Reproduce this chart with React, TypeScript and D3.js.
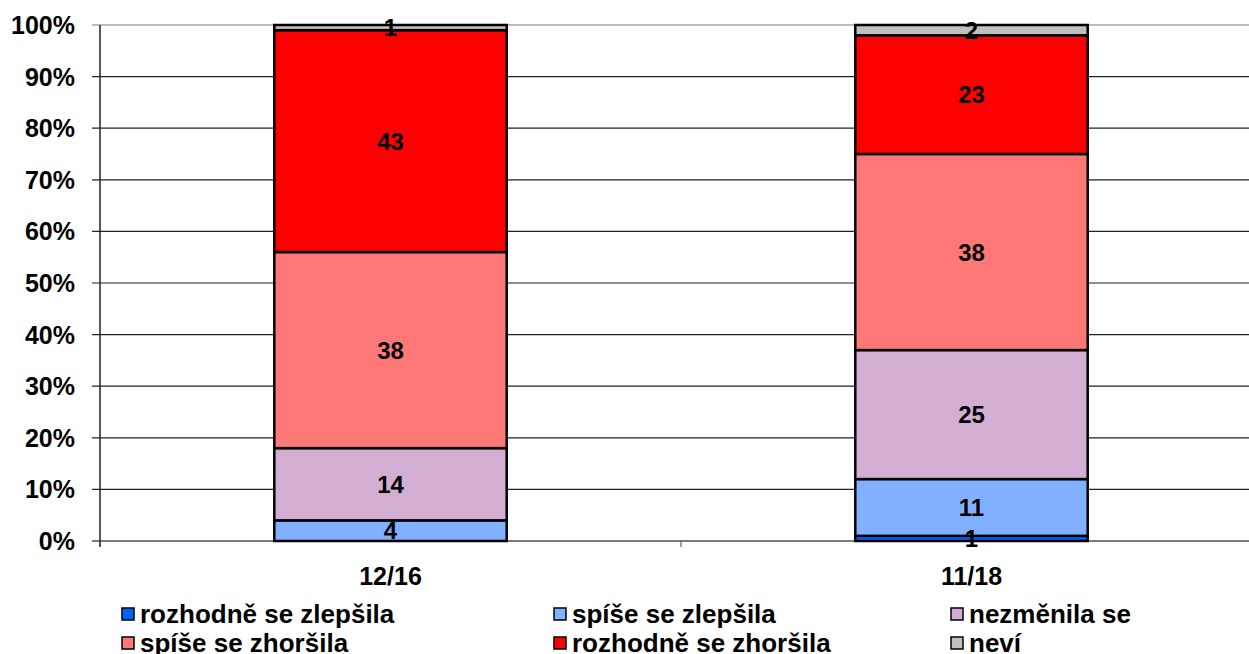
import React, { useEffect, useRef } from "react";
import * as d3 from "d3";

const periods = ["12/16", "11/18"];
const seriesNames = [
  "rozhodně se zlepšila",
  "spíše se zlepšila",
  "nezměnila se",
  "spíše se zhoršila",
  "rozhodně se zhoršila",
  "neví",
];
const seriesColors = ["#0064FF", "#80B0FF", "#D2AED2", "#FF7878", "#FF0000", "#C0C0C0"];
// values per series, one per period
const rozhodneZlepsila = [0, 1];
const spiseZlepsila = [4, 11];
const nezmenila = [14, 25];
const spiseZhorsila = [38, 38];
const rozhodneZhorsila = [43, 23];
const nevi = [1, 2];
const yTicks = [0, 10, 20, 30, 40, 50, 60, 70, 80, 90, 100];

const allSeries = [rozhodneZlepsila, spiseZlepsila, nezmenila, spiseZhorsila, rozhodneZhorsila, nevi];

const W = 1249;
const H = 654;
const FONT = "'Liberation Sans', Arial, sans-serif";

const App: React.FC = () => {
  const ref = useRef<SVGSVGElement | null>(null);

  useEffect(() => {
    if (!ref.current) return;
    const svg = d3.select(ref.current);
    svg.selectAll("*").remove();

    const left = 100;
    const right = 1262;
    const top = 25;
    const bottom = 541;

    const x = d3.scaleBand<string>().domain(periods).range([left, right]).paddingInner(0).paddingOuter(0);
    const y = d3.scaleLinear().domain([0, 100]).range([bottom, top]);
    const barW = x.bandwidth() * 0.4;

    // gridlines
    svg.append("g")
      .selectAll("line")
      .data(yTicks)
      .enter()
      .append("line")
      .attr("x1", left - 8)
      .attr("x2", right)
      .attr("y1", d => y(d))
      .attr("y2", d => y(d))
      .attr("stroke", d => (d === 100 || d === 0 ? "#7a7a7a" : "#222"))
      .attr("stroke-width", d => (d === 0 ? 2 : 1.2));

    // y axis line
    svg.append("line")
      .attr("x1", left).attr("x2", left)
      .attr("y1", top).attr("y2", bottom + 6)
      .attr("stroke", "#222").attr("stroke-width", 1.5);

    // category ticks
    svg.append("g")
      .selectAll("line")
      .data([left, (x(periods[1]) as number)])
      .enter()
      .append("line")
      .attr("x1", d => d).attr("x2", d => d)
      .attr("y1", bottom).attr("y2", bottom + 6)
      .attr("stroke", "#444").attr("stroke-width", 1);

    // y tick labels
    svg.append("g")
      .selectAll("text")
      .data(yTicks)
      .enter()
      .append("text")
      .attr("x", 75)
      .attr("y", d => y(d))
      .attr("dy", "0.36em")
      .attr("text-anchor", "end")
      .attr("font-family", FONT)
      .attr("font-weight", "bold")
      .attr("font-size", 25)
      .text(d => `${d}%`);

    // stacks
    const rows = periods.map((p, i) => {
      const row: any = { period: p };
      seriesNames.forEach((s, j) => (row[s] = allSeries[j][i]));
      return row;
    });
    const stacked = d3.stack<any>().keys(seriesNames)(rows);

    const groups = svg.append("g")
      .selectAll("g")
      .data(stacked)
      .enter()
      .append("g")
      .attr("fill", (_d, i) => seriesColors[i]);

    groups.selectAll("rect")
      .data(d => d.filter(seg => seg[1] - seg[0] > 0))
      .enter()
      .append("rect")
      .attr("x", d => (x(d.data.period) as number) + (x.bandwidth() - barW) / 2)
      .attr("y", d => y(d[1]))
      .attr("width", barW)
      .attr("height", d => y(d[0]) - y(d[1]))
      .attr("stroke", "#000")
      .attr("stroke-width", 2.5);

    // value labels
    const labels = svg.append("g");
    stacked.forEach(layer => {
      layer.forEach(seg => {
        const v = seg[1] - seg[0];
        if (v <= 0) return;
        labels.append("text")
          .attr("x", (x(seg.data.period) as number) + x.bandwidth() / 2)
          .attr("y", y((seg[0] + seg[1]) / 2))
          .attr("dy", "0.36em")
          .attr("text-anchor", "middle")
          .attr("font-family", FONT)
          .attr("font-weight", "bold")
          .attr("font-size", 24)
          .text(v);
      });
    });

    // category labels
    svg.append("g")
      .selectAll("text")
      .data(periods)
      .enter()
      .append("text")
      .attr("x", d => (x(d) as number) + x.bandwidth() / 2)
      .attr("y", 576)
      .attr("dy", "0.36em")
      .attr("text-anchor", "middle")
      .attr("font-family", FONT)
      .attr("font-weight", "bold")
      .attr("font-size", 25)
      .text(d => d);

    // legend
    const legendX = [122, 554, 951];
    const legendY = [614, 643];
    const leg = svg.append("g")
      .selectAll("g")
      .data(seriesNames)
      .enter()
      .append("g")
      .attr("transform", (_d, i) => `translate(${legendX[i % 3]},${legendY[Math.floor(i / 3)]})`);
    leg.append("rect")
      .attr("x", 0).attr("y", -6)
      .attr("width", 12).attr("height", 12)
      .attr("fill", (_d, i) => seriesColors[i])
      .attr("stroke", "#000").attr("stroke-width", 1.5);
    leg.append("text")
      .attr("x", 18)
      .attr("y", 0)
      .attr("dy", "0.36em")
      .attr("font-family", FONT)
      .attr("font-weight", "bold")
      .attr("font-size", 26)
      .text(d => d);
  }, []);

  return (
    <svg
      ref={ref}
      width={W}
      height={H}
      style={{ position: "absolute", left: 0, top: 0, background: "#fff" }}
    />
  );
};

export default App;
